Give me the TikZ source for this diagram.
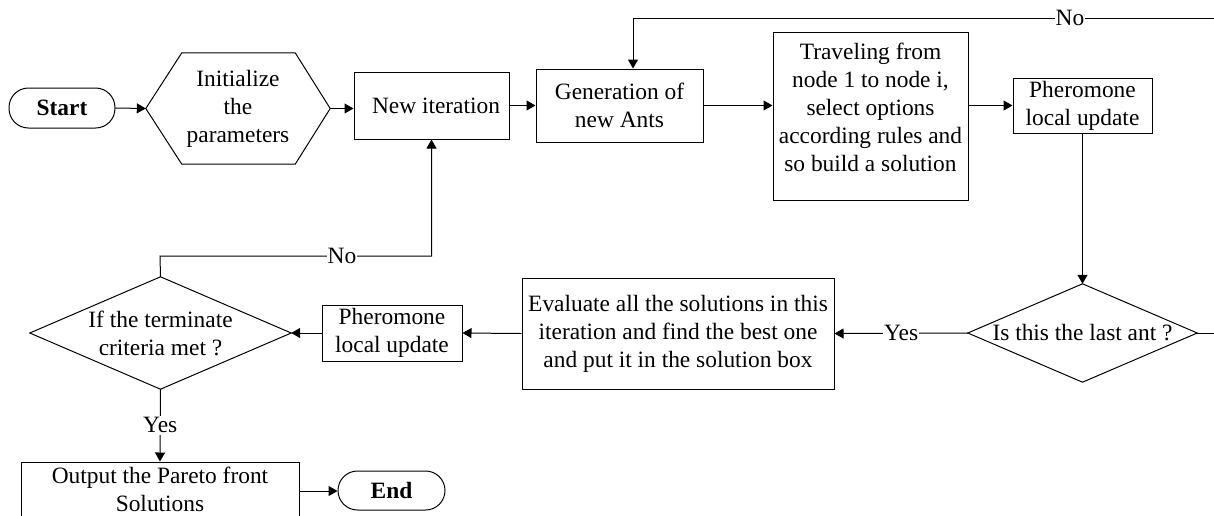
\documentclass[tikz,border=0pt]{standalone}
\usepackage{fontspec}
\setmainfont{Liberation Serif}
\usetikzlibrary{arrows.meta,calc}

\tikzset{
  x=1pt, y=-1pt,
  every node/.style={font={\fontsize{23.4}{28}\selectfont}, align=center, inner sep=0pt},
  line/.style={line width=1pt, draw=black},
  arr/.style={line, -{Triangle[length=9pt,width=10pt]}},
  procbox/.style 2 args={draw, line width=1pt, minimum width=#1pt, minimum height=#2pt},
  area/.style 2 args={minimum width=#1pt, minimum height=#2pt},
  terminal/.style 2 args={draw, line width=1pt, rounded corners=19.5pt,
    minimum width=#1pt, minimum height=#2pt, font={\fontsize{23.4}{28}\selectfont\bfseries}},
  lbl/.style={fill=white, inner xsep=1pt, inner ysep=2pt},
}

\begin{document}
\begin{tikzpicture}
  \clip (0,0) rectangle (1214,515);

  % --- first row ---
  \node[terminal={106}{40}] (start) at (62,108) {Start};
  \node[area={184}{111}] (init) at (238,108.5) {Initialize\\the\\parameters};
  \draw[line] (init.west) -- ($(init.north west)+(36,0)$) -- ($(init.north east)+(-35,0)$)
    -- (init.east) -- ($(init.south east)+(-35,0)$) -- ($(init.south west)+(36,0)$) -- cycle;
  \node[procbox={155}{67}] (newit) at (431.5,105.5) {\hspace*{9pt}New iteration};
  \node[procbox={167}{73}] (gen) at (619.5,105.5) {Generation of\\new Ants};
  \node[procbox={195}{168}] (trav) at (870.5,116) {};
  \node (travtxt) at (870.5,107) {Traveling from\\node 1 to node i,\\select options\\according rules and\\so build a solution};
  \node[procbox={139}{55}] (ph1) at (1082.5,105.5) {Pheromone\\local update};

  % --- second row ---
  \node[area={229}{98}] (last) at (1082.5,333) {Is this the last ant ?};
  \draw[line] (last.north) -- (last.east) -- (last.south) -- (last.west) -- cycle;
  \node[procbox={312}{111}] (eval) at (678,333.5) {Evaluate all the solutions in this\\iteration and find the best one\\and put it in the solution box};
  \node[procbox={140}{56}] (ph2) at (392,333) {Pheromone\\local update};
  \node[area={261}{112}] (term) at (160.5,333) {If the terminate\\criteria met ?};
  \draw[line] (term.north) -- (term.east) -- (term.south) -- (term.west) -- cycle;

  % --- last row ---
  \node[procbox={278}{58}] (out) at (160,491) {};
  \node (outtxt) at (160,489.5) {Output the Pareto front\\Solutions};
  \node[terminal={107}{39}] (endn) at (391.5,490.5) {End};

  % --- connectors ---
  \draw[arr] (start.east) -- (init.west);
  \draw[arr] (init.east) -- (init.east -| newit.west);
  \draw[arr] (newit.east) -- (gen.west);
  \draw[arr] (gen.east) -- (gen.east -| trav.west);
  \draw[arr] (ph1.west -| trav.east) -- (ph1.west);
  \draw[arr] (ph1.south) -- (last.north);
  \draw[arr] (last.west) -- node[lbl] {Yes} (eval.east);
  \draw[arr] (eval.west) -- (ph2.east);
  \draw[arr] (ph2.west) -- (term.east);
  \draw[arr] (term.south) -- node[lbl] {Yes} (out.north);
  \draw[arr] (out.east) -- (out.east -| endn.west);

  \coordinate (nobend) at (160,256);
  \draw[arr] (term.north) -- (nobend) -- node[pos=0.67, lbl] {No} (nobend -| newit.south) -- (newit.south);

  \coordinate (topR) at (1214,18);
  \coordinate (topL) at (633,18);
  \draw[arr] (topR) -- node[pos=0.248, lbl] {No} (topL) -- (topL |- gen.north);

  \coordinate (midR) at (1214,333);
  \draw[line] (last.east) -- (midR);
\end{tikzpicture}
\end{document}
